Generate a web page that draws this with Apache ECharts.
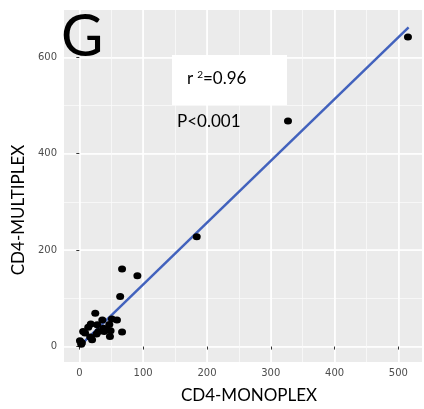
<!DOCTYPE html>
<html>
<head>
<meta charset="utf-8">
<script src="https://cdn.jsdelivr.net/npm/echarts@6/dist/echarts.min.js"></script>
<style>
  html, body { margin: 0; padding: 0; background: #fff; }
  #chart { width: 424px; height: 409px; }
</style>
</head>
<body>
<div id="chart"></div>
<script>
// CD4 counts, monoplex (x) vs multiplex (y)
const monoplex = [515, 327, 184, 67, 91, 64, 25, 18, 14, 6, 9, 28, 36, 51, 47, 43, 39, 67, 48, 30, 27, 17, 20, 4, 1, 49, 38, 3, 59];
const multiplex = [642, 468, 228, 161, 147, 104, 69, 47, 40, 31, 28, 45, 55, 57, 46, 35, 31, 30, 21, 31, 26, 20, 14, 8, 12, 33, 38, 5, 55];
// fitted line end points
const fitX = [2, 516];
const fitY = [3, 662];
const xRange = [-24, 537];
const yRange = [-32, 698];
const xLabel = 'CD4-MONOPLEX';
const yLabel = 'CD4-MULTIPLEX';

const chart = echarts.init(document.getElementById('chart'));

const tickLabel = { color: '#4d4d4d', fontSize: 10, fontFamily: 'DejaVu Sans' };
const titleFont = 'Lato';
const grid = {
  left: 64, right: 2, top: 10, bottom: 47,
  outerBoundsMode: 'none', containLabel: false,
  show: true, backgroundColor: '#ebebeb', borderWidth: 0
};

function majorAxis(pos, range, split, margin) {
  return {
    type: 'value', position: pos, min: range[0], max: range[1], splitNumber: split,
    axisLine: { show: false },
    axisTick: { show: true, length: 3, lineStyle: { color: '#333', width: 1 } },
    axisLabel: Object.assign({ margin: margin, showMinLabel: false, showMaxLabel: false }, tickLabel),
    splitLine: { show: true, showMinLine: false, showMaxLine: false, lineStyle: { color: '#fff', width: 1.6 } }
  };
}
function minorAxis(pos, range, split) {
  return {
    type: 'value', position: pos, min: range[0], max: range[1], splitNumber: split,
    axisLine: { show: false }, axisTick: { show: false }, axisLabel: { show: false },
    splitLine: { show: true, showMinLine: false, showMaxLine: false, lineStyle: { color: '#fafafa', width: 0.8 } }
  };
}

const option = {
  animation: false,
  grid: grid,
  xAxis: [minorAxis('bottom', xRange, 11), majorAxis('bottom', xRange, 5, 6)],
  yAxis: [minorAxis('left', yRange, 7), majorAxis('left', yRange, 4, 7)],
  series: [
    {
      type: 'line',
      xAxisIndex: 1, yAxisIndex: 1,
      data: fitX.map((x, i) => [x, fitY[i]]),
      symbol: 'none',
      lineStyle: { color: '#4262bd', width: 2.5 },
      z: 2
    },
    {
      type: 'scatter',
      xAxisIndex: 1, yAxisIndex: 1,
      data: monoplex.map((x, i) => [x, multiplex[i]]),
      symbolSize: [8, 7],
      itemStyle: { color: '#000', opacity: 1 },
      z: 3
    }
  ],
  graphic: [
    { type: 'text', z: 100, left: 61, top: 8, style: { text: 'G', fontSize: 58, fontFamily: titleFont, fill: '#000' } },
    { type: 'rect', z: 100, shape: { x: 172, y: 55, width: 115, height: 50 }, style: { fill: '#fff' } },
    {
      type: 'text', z: 101, left: 187, top: 70,
      style: {
        text: '{b|r}{s|2}{b|=0.96}',
        rich: {
          b: { fontSize: 17, fontFamily: titleFont, fill: '#000' },
          s: { fontSize: 10, fontFamily: titleFont, fill: '#000', verticalAlign: 'top', padding: [0, 0, 8, 4] }
        }
      }
    },
    { type: 'text', z: 100, left: 177, top: 113, style: { text: 'P<0.001', fontSize: 17, fontFamily: titleFont, fill: '#000' } },
    { type: 'text', z: 100, x: 249, y: 396, style: { text: xLabel, fontSize: 17, fontFamily: titleFont, fill: '#000', align: 'center', verticalAlign: 'middle' } },
    { type: 'text', z: 100, x: 19, y: 210, rotation: Math.PI / 2, style: { text: yLabel, fontSize: 17, fontFamily: titleFont, fill: '#000', align: 'center', verticalAlign: 'middle' } }
  ]
};

chart.setOption(option);
</script>
</body>
</html>
